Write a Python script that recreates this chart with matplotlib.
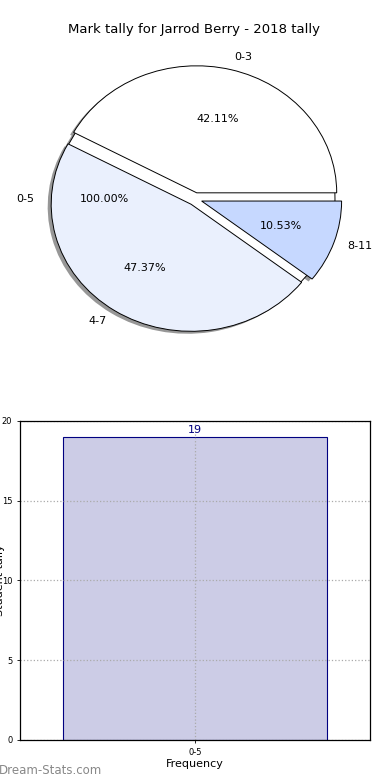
import matplotlib
matplotlib.use('Agg')
import matplotlib.pyplot as plt

# data
player = 'Jarrod Berry'
season = '2018'
total_labels = ['0-5']
total_values = [19]
range_labels = ['0-3', '4-7', '8-11']
range_values = [8, 9, 2]
range_colors = ['#ffffff', '#eaf0fd', '#c6d8ff']
bar_labels = ['0-5']
bar_values = [19]

fig = plt.figure(figsize=(3.9, 7.8), dpi=100)

# pie (old style, not round)
ax1 = fig.add_axes([0.0, 0.5526, 1.0, 0.3846])
wprops = dict(edgecolor='black', linewidth=0.7)
shadow = dict(ox=-0.018, oy=-0.014, facecolor='#8c8c8c', edgecolor='none', alpha=0.9)
ax1.pie(total_values, labels=total_labels, autopct='%.2f%%', colors=['#ffffff'],
        startangle=0, counterclock=True, shadow=shadow, wedgeprops=wprops,
        labeldistance=1.15, pctdistance=0.65, textprops=dict(fontsize=8))
ax1.pie(range_values, labels=range_labels, autopct='%.2f%%', colors=range_colors,
        startangle=0, explode=[0.05] * len(range_values), shadow=shadow,
        wedgeprops=wprops, textprops=dict(fontsize=8))
ax1.set_aspect('auto')
ax1.set_xlim(-1.393, 1.393)
ax1.set_ylim(-1.181, 1.181)
ax1.axis('off')

fig.text(0.498, 1 - 30 / 780, 'Mark tally for %s - %s tally' % (player, season),
         ha='center', va='center', fontsize=9.5)

# bar chart
ax2 = fig.add_axes([0.0513, 0.0513, 0.897, 0.409])
ax2.bar(range(len(bar_values)), bar_values, width=0.8, color='#ccccE6',
        edgecolor='#000080', linewidth=0.8, zorder=1)
for i, v in enumerate(bar_values):
    ax2.text(i, v + 0.1, str(v), ha='center', va='bottom', fontsize=8, color='#000080')
ax2.set_xlim(-0.53, 0.53)
ax2.set_ylim(0, 20)
ax2.set_yticks([0, 5, 10, 15, 20])
ax2.set_xticks(range(len(bar_labels)))
ax2.set_xticklabels(bar_labels)
ax2.tick_params(labelsize=6, length=2, width=0.6)
ax2.grid(True, linestyle=':', color='#aaaaaa', linewidth=0.9, zorder=1.5)
ax2.set_axisbelow(False)
for s in ax2.spines.values():
    s.set_linewidth(0.9)
    s.set_zorder(4)
ax2.set_xlabel('Frequency', fontsize=8, labelpad=2)

fig.text(0.0, 1 - 580 / 780, 'Student tally', rotation=90, ha='center',
         va='center', fontsize=8)
fig.text(-0.003, 1 - 770 / 780, 'Dream-Stats.com', ha='left', va='center',
         fontsize=8.5, color='#888888')

fig.savefig('out.png', dpi=100)
